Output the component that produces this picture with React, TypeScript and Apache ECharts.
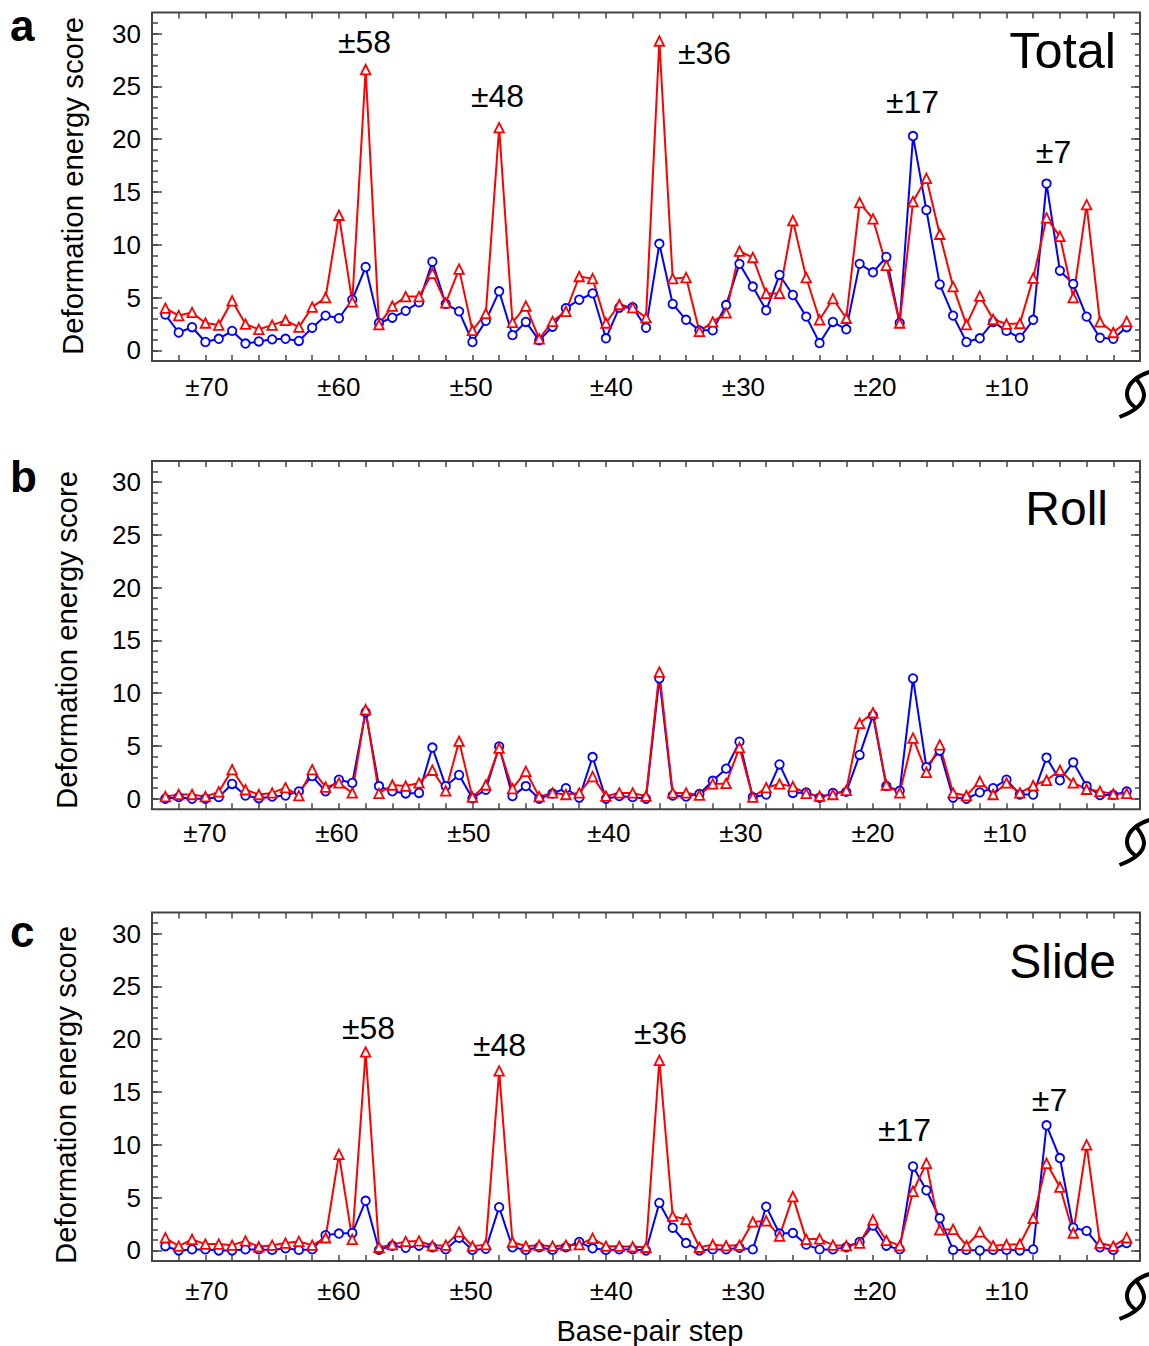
import React, { useEffect, useRef } from "react";
import * as echarts from "echarts";

const steps = [73,72,71,70,69,68,67,66,65,64,63,62,61,60,59,58,57,56,55,54,53,52,51,50,49,48,47,46,45,44,43,42,41,40,39,38,37,36,35,34,33,32,31,30,29,28,27,26,25,24,23,22,21,20,19,18,17,16,15,14,13,12,11,10,9,8,7,6,5,4,3,2,1];

const totalBlue = [3.4,1.7,2.2,0.8,1.1,1.85,0.65,0.85,1.05,1.1,0.9,2.15,3.3,3.05,4.8,7.9,2.6,3.1,3.75,4.55,8.4,4.4,3.7,0.8,2.8,5.6,1.45,2.7,0.95,2.25,4.0,4.8,5.4,1.15,4.05,4.1,2.15,10.1,4.4,2.9,1.9,1.9,4.3,8.2,6.05,3.8,7.15,5.25,3.2,0.7,2.7,2.0,8.2,7.4,8.85,2.6,20.3,13.3,6.25,3.3,0.8,1.15,2.7,1.85,1.2,2.9,15.8,7.55,6.3,3.2,1.2,1.1,2.2];
const totalRed = [4.0,3.3,3.6,2.6,2.4,4.7,2.5,2.0,2.4,2.85,2.2,4.1,5.0,12.8,4.6,26.6,2.45,4.2,5.1,5.1,7.3,4.5,7.7,1.9,3.5,21.1,2.65,4.2,1.1,2.75,3.7,7.0,6.8,2.6,4.35,4.05,3.1,29.3,6.8,6.9,1.8,2.7,3.55,9.4,8.8,5.4,5.4,12.3,6.9,2.9,4.9,3.05,14.0,12.45,8.05,2.6,14.1,16.3,11.0,6.05,2.45,5.15,2.95,2.5,2.55,6.85,12.55,10.8,5.0,13.8,2.7,1.7,2.75];

const rollBlue = [0,0.15,0,0,0.15,1.4,0.3,0.05,0.2,0.3,0.7,2.15,0.7,1.8,1.5,8.2,1.2,0.7,0.5,0.55,4.85,1.2,2.25,0.05,0.85,4.95,0.25,1.2,0,0.5,1.0,0.1,3.95,0,0.25,0.15,0,11.4,0.3,0.2,0.45,1.7,2.85,5.4,0.15,0.4,3.25,0.55,0.6,0.1,0.55,0.65,4.15,7.9,1.2,0.75,11.4,3.0,4.55,0.1,0,0.6,1.0,1.8,0.4,0.4,3.9,1.75,3.45,1.2,0.35,0.35,0.7];
const rollRed = [0.2,0.4,0.4,0.2,0.65,2.75,0.85,0.4,0.55,1.05,0.3,2.75,1.1,1.5,0.55,8.45,0.5,1.3,1.2,1.5,2.7,0.75,5.45,0.15,1.3,4.8,0.95,2.6,0.2,0.55,0.4,0.55,2.1,0.25,0.55,0.55,0.25,12.0,0.55,0.55,0.35,1.4,1.45,4.85,0.15,1.05,1.4,1.15,0.5,0.25,0.4,0.8,7.15,8.15,1.3,0.55,5.75,2.5,5.1,0.55,0.3,1.65,0.4,1.5,0.55,1.25,1.75,2.7,1.5,0.9,0.7,0.45,0.5];

const slideBlue = [0.4,0,0.1,0.1,0,0,0.1,0.1,0.05,0.2,0.05,0.1,1.45,1.6,1.65,4.7,0.05,0.45,0.25,0.45,0.3,0.1,1.2,0.05,0.15,4.1,0.3,0.05,0.3,0.05,0.3,0.8,0.2,0.05,0.1,0.1,0,4.5,2.15,0.7,0,0.1,0.1,0.25,0.1,4.15,1.6,1.65,0.55,0.1,0.1,0.3,0.8,2.35,0.45,0.1,7.95,5.7,3.05,0.05,0.05,0,0.05,0.05,0,0.1,11.85,8.75,2.15,1.85,0.3,0.05,0.7];
const slideRed = [1.2,0.4,1.05,0.6,0.6,0.5,0.9,0.35,0.5,0.7,0.85,0.5,1.2,9.1,1.05,18.8,0.3,0.55,0.85,0.9,0.45,0.5,1.75,0.4,0.55,17.0,0.8,0.4,0.5,0.4,0.5,0.55,1.15,0.4,0.4,0.35,0.3,18.0,3.25,2.95,0.3,0.55,0.45,0.5,2.7,2.8,1.35,5.1,1.05,1.1,0.5,0.45,0.7,2.9,0.95,0.45,5.6,8.25,1.95,2.0,0.45,1.75,0.45,0.55,0.6,3.05,8.25,6.0,1.65,10.0,0.7,0.4,1.2];

const yMajorTicks = [0, 5, 10, 15, 20, 25, 30];
const yMinorTicks = [0,1,2,3,4,5,6,7,8,9,10,11,12,13,14,15,16,17,18,19,20,21,22,23,24,25,26,27,28,29,30,31];
const xTicks = [2,4,6,8,10,12,14,16,18,20,22,24,26,28,30,32,34,36,38,40,42,44,46,48,50,52,54,56,58,60,62,64,66,68,70,72];
// The source figure's x labels are hand-placed, slightly off their ticks; these are the anchors, in axis units.
const xLabelAnchors = [9.96, 19.85, 29.7, 39.6, 50.1, 60.0, 69.9];
const xLabelAnchorsRoll = [10.1, 20.0, 29.9, 39.78, 50.26, 60.15, 70.04];

const FONT = "Liberation Sans, Arial, sans-serif";
const AXIS_COLOR = "#444444";

const HELIX = "M30.5,1 C21,4 8,11 8,23 C8,30 13,34 18,38 M0.5,46 C11,42 25,35 25,24 C25,17 20,12 16,6";

type Panel = {
  top: number; bottom: number; blue: number[]; red: number[];
  nameX: number; nameCenter: number; labelMargin: number; anchors: number[];
  letter: string; letterY: number; title: string; titleSize: number; titleRight: number; titleY: number;
  helixY: number;
  notes: [string, number, number][];
};

const panels: Panel[] = [
  { top: 12.5, bottom: 361, blue: totalBlue, red: totalRed, nameX: 72, nameCenter: 186, labelMargin: 13, anchors: xLabelAnchors,
    letter: "a", letterY: 25, title: "Total", titleSize: 50.5, titleRight: 1116, titleY: 50, helixY: 371,
    notes: [["±58", 364.5, 42], ["±48", 497.5, 96], ["±36", 704.5, 53], ["±17", 912.5, 102], ["±7", 1053.5, 152]] },
  { top: 461, bottom: 809.3, blue: rollBlue, red: rollRed, nameX: 66, nameCenter: 640, labelMargin: 11, anchors: xLabelAnchorsRoll,
    letter: "b", letterY: 476, title: "Roll", titleSize: 48, titleRight: 1108, titleY: 508, helixY: 819,
    notes: [] },
  { top: 912.5, bottom: 1261, blue: slideBlue, red: slideRed, nameX: 65, nameCenter: 1095, labelMargin: 17, anchors: xLabelAnchors,
    letter: "c", letterY: 931, title: "Slide", titleSize: 48, titleRight: 1116, titleY: 961, helixY: 1273,
    notes: [["±58", 368.5, 1028], ["±48", 499.5, 1045], ["±36", 660.5, 1033], ["±17", 904.5, 1130], ["±7", 1049.5, 1100]] },
];

echarts.graphic.registerShape("helix", echarts.graphic.extendPath(HELIX, {}));

function buildOption() {
  const grid: any[] = [];
  const xAxis: any[] = [];
  const yAxis: any[] = [];
  const series: any[] = [];
  const graphic: any[] = [];

  panels.forEach((p, i) => {
    grid.push({
      left: 152, width: 988, top: p.top, height: p.bottom - p.top,
      show: true, borderColor: AXIS_COLOR, borderWidth: 2, backgroundColor: "transparent",
    });
    const xBase = { type: "value", gridIndex: i, min: 0, max: 74, inverse: true, splitLine: { show: false }, axisLine: { show: false, onZero: false } };
    xAxis.push({
      ...xBase, position: "bottom",
      axisTick: { show: true, inside: true, length: 6, customValues: xTicks, lineStyle: { color: AXIS_COLOR, width: 1.5 } },
      axisLabel: {
        show: true, customValues: p.anchors, formatter: (v: number) => `±${Math.round(v / 10) * 10}`,
        margin: p.labelMargin, fontSize: 26, color: "#000", fontFamily: FONT,
      },
    });
    xAxis.push({
      ...xBase, position: "top",
      axisTick: { show: true, inside: true, length: 6, customValues: xTicks, lineStyle: { color: AXIS_COLOR, width: 1.5 } },
      axisLabel: { show: false },
    });
    const yBase = { type: "value", gridIndex: i, min: -1, max: 32, splitLine: { show: false }, axisLine: { show: false, onZero: false } };
    yAxis.push({
      ...yBase, position: "left",
      axisTick: { show: true, inside: true, length: 10, customValues: yMajorTicks, lineStyle: { color: AXIS_COLOR, width: 1.5 } },
      axisLabel: { show: true, customValues: yMajorTicks, margin: 11, fontSize: 26, color: "#000", fontFamily: FONT },
    });
    yAxis.push({
      ...yBase, position: "left",
      axisTick: { show: true, inside: true, length: 6, customValues: yMinorTicks, lineStyle: { color: AXIS_COLOR, width: 1.5 } },
      axisLabel: { show: false },
    });
    yAxis.push({
      ...yBase, position: "right",
      axisTick: { show: true, inside: true, length: 9, customValues: yMajorTicks, lineStyle: { color: AXIS_COLOR, width: 1.5 } },
      axisLabel: { show: false },
    });
    yAxis.push({
      ...yBase, position: "right",
      axisTick: { show: true, inside: true, length: 5, customValues: yMinorTicks, lineStyle: { color: AXIS_COLOR, width: 1.5 } },
      axisLabel: { show: false },
    });

    const lineSeries = (name: string, values: number[], color: string, symbol: string, size: number) => ({
      name, type: "line", xAxisIndex: i * 2, yAxisIndex: i * 4,
      data: steps.map((s, k) => [s, values[k]]),
      symbol, symbolSize: size, showAllSymbol: true, clip: false,
      lineStyle: { color, width: 2 },
      itemStyle: { color: "#ffffff", borderColor: color, borderWidth: 1.8 },
      emphasis: { disabled: true },
    });
    series.push(lineSeries(`${p.title} blue`, p.blue, "#0000ff", "circle", 8.5));
    series.push(lineSeries(`${p.title} red`, p.red, "#ff0000", "triangle", 9.5));

    graphic.push({
      type: "text", x: p.nameX, y: p.nameCenter, rotation: Math.PI / 2,
      style: { text: "Deformation energy score", font: `29.4px ${FONT}`, fill: "#000", align: "center", verticalAlign: "middle" },
    });
    graphic.push({
      type: "text", x: 10, y: p.letterY,
      style: { text: p.letter, font: `bold 44px ${FONT}`, fill: "#000", align: "left", verticalAlign: "middle" },
    });
    graphic.push({
      type: "text", x: p.titleRight, y: p.titleY,
      style: { text: p.title, font: `${p.titleSize}px ${FONT}`, fill: "#000", align: "right", verticalAlign: "middle" },
    });
    p.notes.forEach(([text, x, y]) => {
      graphic.push({
        type: "text", x, y,
        style: { text, font: `32px ${FONT}`, fill: "#000", align: "center", verticalAlign: "middle" },
      });
    });
    graphic.push({
      type: "helix", x: 1119, y: p.helixY,
      style: { fill: "none", stroke: "#000", lineWidth: 4 },
    });
  });

  graphic.push({
    type: "text", x: 650, y: 1331,
    style: { text: "Base-pair step", font: `29px ${FONT}`, fill: "#000", align: "center", verticalAlign: "middle" },
  });

  return { animation: false, backgroundColor: "#ffffff", grid, xAxis, yAxis, series, graphic };
}

export default function App() {
  const ref = useRef<HTMLDivElement>(null);
  useEffect(() => {
    const chart = echarts.init(ref.current!, undefined, { renderer: "svg" });
    chart.setOption(buildOption());
    return () => chart.dispose();
  }, []);
  return <div ref={ref} style={{ position: "absolute", left: 0, top: 0, width: 1149, height: 1346 }} />;
}
